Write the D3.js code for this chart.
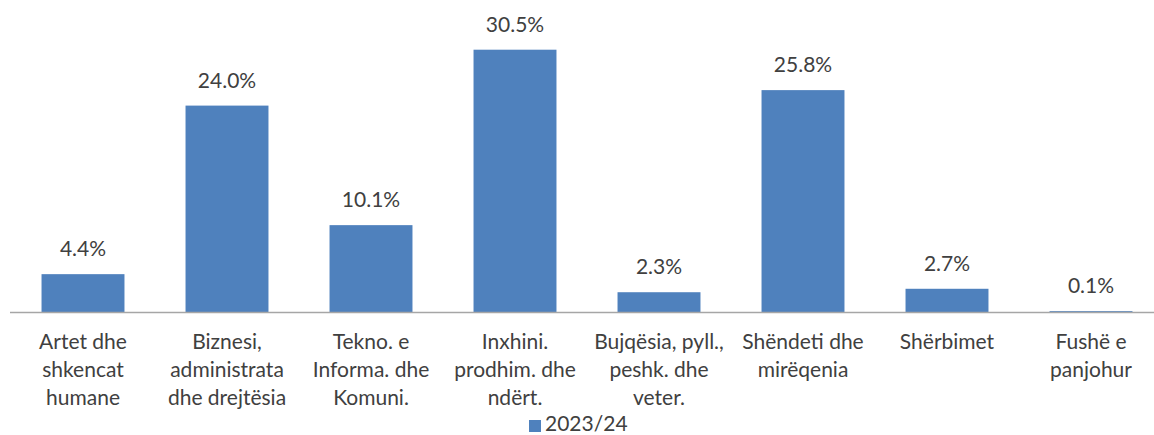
<!DOCTYPE html>
<html>
<head>
<meta charset="utf-8">
<script src="https://cdn.jsdelivr.net/npm/d3@7"></script>
<style>
  body { margin: 0; background: #fff; }
  svg text { font-family: Lato, "Open Sans", sans-serif; fill: #404040; }
</style>
</head>
<body>
<div id="chart"></div>
<script>
// shares by field of study
let categories = [
    "Artet dhe|shkencat|humane",
    "Biznesi,|administrata|dhe drejtësia",
    "Tekno. e|Informa. dhe|Komuni.",
    "Inxhini.|prodhim. dhe|ndërt.",
    "Bujqësia, pyll.,|peshk. dhe|veter.",
    "Shëndeti dhe|mirëqenia",
    "Shërbimet",
    "Fushë e|panjohur"
]
let values = [4.4, 24.0, 10.1, 30.5, 2.3, 25.8, 2.7, 0.1]
let seriesName = "2023/24"

let width = 1154;
let height = 435;
let base = 312;

let svg = d3.select("#chart").append("svg")
    .attr("width", width)
    .attr("height", height);

let x = d3.scaleBand()
    .domain(categories)
    .range([11, 1163])
    .paddingInner(0.424)
    .paddingOuter(0.212);

let y = d3.scaleLinear()
    .domain([0, 35])
    .range([base, 11]);

// bars
svg.selectAll("rect.bar")
    .data(values)
    .join("rect")
    .attr("class", "bar")
    .attr("x", (d, i) => x(categories[i]))
    .attr("y", d => y(d))
    .attr("width", x.bandwidth())
    .attr("height", d => base - y(d))
    .attr("fill", "#4F81BD");

// axis line
svg.append("line")
    .attr("x1", 10)
    .attr("x2", width)
    .attr("y1", base + 0.5)
    .attr("y2", base + 0.5)
    .attr("stroke", "#A6A6A6")
    .attr("stroke-width", 1.5);

// value labels
svg.selectAll("text.val")
    .data(values)
    .join("text")
    .attr("class", "val")
    .attr("x", (d, i) => x(categories[i]) + x.bandwidth() / 2)
    .attr("y", d => y(d) - 18)
    .attr("text-anchor", "middle")
    .attr("font-size", 21)
    .text(d => d.toFixed(1) + "%");

// category labels
let cat = svg.selectAll("text.cat")
    .data(categories)
    .join("text")
    .attr("class", "cat")
    .attr("text-anchor", "middle")
    .attr("font-size", 21)
    .attr("transform", d => `translate(${x(d) + x.bandwidth() / 2}, ${base + 37})`);

cat.selectAll("tspan")
    .data(d => d.split("|"))
    .join("tspan")
    .attr("x", 0)
    .attr("y", (d, i) => i * 28)
    .text(d => d);

// legend
let legend = svg.append("g")
    .attr("transform", "translate(529, 431)");

legend.append("rect")
    .attr("x", 0)
    .attr("y", -11)
    .attr("width", 12)
    .attr("height", 12)
    .attr("fill", "#4F81BD");

legend.append("text")
    .attr("x", 16)
    .attr("y", 0)
    .attr("font-size", 21)
    .text(seriesName);
</script>
</body>
</html>
